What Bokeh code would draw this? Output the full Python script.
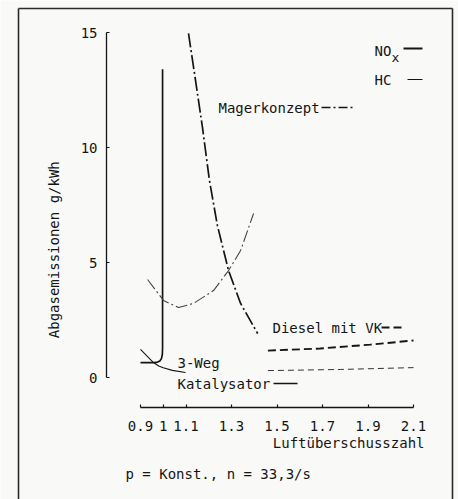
import numpy as np
from bokeh.plotting import figure
from bokeh.models import ColumnDataSource, FixedTicker, LinearAxis, Range1d
from bokeh.core.properties import value
from bokeh.embed import file_html
from bokeh.resources import INLINE

# ---------------- data ----------------
kat_nox_lambda = [0.90, 0.96, 0.975, 0.985, 0.992, 0.996, 0.997, 0.997]
kat_nox_val = [0.65, 0.65, 0.67, 0.72, 0.82, 1.0, 1.3, 13.4]
kat_hc_lambda = [0.90, 0.93, 0.957, 0.98, 1.0, 1.04, 1.098]
kat_hc_val = [1.22, 0.92, 0.65, 0.50, 0.42, 0.31, 0.22]
mager_nox_lambda = [1.111, 1.142, 1.173, 1.203, 1.238, 1.287, 1.340, 1.415]
mager_nox_val = [14.96, 12.91, 10.83, 8.57, 6.61, 4.65, 3.22, 1.91]
mager_hc_lambda = [0.931, 1.001, 1.067, 1.133, 1.221, 1.287, 1.340, 1.397]
mager_hc_val = [4.26, 3.35, 3.04, 3.22, 3.78, 4.65, 5.52, 7.13]
diesel_nox_lambda = [1.46, 1.69, 1.91, 2.10]
diesel_nox_val = [1.17, 1.26, 1.43, 1.61]
diesel_hc_lambda = [1.46, 1.78, 2.10]
diesel_hc_val = [0.30, 0.35, 0.43]

x_ticks = [0.9, 1.0, 1.1, 1.3, 1.5, 1.7, 1.9, 2.1]
x_tick_labels = ["0.9", "1", "1.1", "1.3", "1.5", "1.7", "1.9", "2.1"]
y_ticks = [0, 5, 10, 15]
y_tick_labels = ["0", "5", "10", "15"]

x_title = "Luftüberschusszahl"
y_title = "Abgasemissionen  g/kWh"
note = "p = Konst., n = 33,3/s"

# ---------------- layout helpers ----------------
W, H = 458, 499
PX_PER_X = 227.5      # pixels per lambda unit
PX_PER_Y = 23.0       # pixels per g/kWh
X0_PAGE, Y0_PAGE = 140, 377   # picture pixel of lambda=0.9 and value=0
XMIN = 0.9 - X0_PAGE / PX_PER_X
XMAX = XMIN + W / PX_PER_X
YMAX = Y0_PAGE / PX_PER_Y
YMIN = YMAX - H / PX_PER_Y

def lx(px):
    return 0.9 + (px - X0_PAGE) / PX_PER_X

def vy(py):
    return (Y0_PAGE - py) / PX_PER_Y

INK = "#151515"
FONT = value("DejaVu Sans Mono")
BG = "#f9f9f8"

p = figure(width=W, height=H, x_range=Range1d(XMIN, XMAX), y_range=Range1d(YMIN, YMAX),
           output_backend="svg", toolbar_location=None, title=None, min_border=0,
           x_axis_type=None, y_axis_type=None)
p.background_fill_color = BG
p.border_fill_color = BG
p.outline_line_color = None

# ---------------- axes ----------------
xaxis = LinearAxis(ticker=FixedTicker(ticks=x_ticks),
                   major_label_overrides=dict(zip(x_ticks, x_tick_labels)),
                   bounds=(x_ticks[0], x_ticks[-1]), fixed_location=vy(407))
yaxis = LinearAxis(ticker=FixedTicker(ticks=y_ticks),
                   major_label_overrides=dict(zip(y_ticks, y_tick_labels)),
                   bounds=(y_ticks[0], y_ticks[-1]), fixed_location=lx(106))
for ax in (xaxis, yaxis):
    ax.axis_line_color = INK
    ax.axis_line_width = 1.3
    ax.major_tick_line_color = INK
    ax.major_tick_line_width = 1.2
    ax.major_tick_in = 3
    ax.major_tick_out = 0
    ax.minor_tick_line_color = None
    ax.major_label_text_font = "DejaVu Sans Mono"
    ax.major_label_text_font_size = "14px"
    ax.major_label_text_color = INK
xaxis.major_label_standoff = 13
yaxis.major_label_standoff = 9
p.add_layout(xaxis, "below")
p.add_layout(yaxis, "left")

# ---------------- curves ----------------
p.line(kat_nox_lambda, kat_nox_val, line_color=INK, line_width=1.7)
p.line(kat_hc_lambda, kat_hc_val, line_color=INK, line_width=1.1)
p.line(mager_nox_lambda, mager_nox_val, line_color=INK, line_width=1.7, line_dash="14 3 2 3")
p.line(mager_hc_lambda, mager_hc_val, line_color="#444444", line_width=1.1, line_dash="12 3 2 3")
p.line(diesel_nox_lambda, diesel_nox_val, line_color=INK, line_width=1.9, line_dash="8 4")
p.line(diesel_hc_lambda, diesel_hc_val, line_color="#333333", line_width=1.0, line_dash="6 4")

# ---------------- frame border ----------------
p.line([lx(18), lx(18)], [YMIN, vy(8)], line_color="#2a2a2a", line_width=1.6)
p.line([lx(18), lx(452)], [vy(8), vy(8)], line_color="#2a2a2a", line_width=1.6)
p.line([lx(452), lx(452)], [vy(8), YMIN], line_color="#2a2a2a", line_width=1.6)

# ---------------- labels ----------------
left_src = ColumnDataSource(dict(
    x=[lx(374), lx(374), lx(218), lx(272), lx(177), lx(177), lx(125)],
    y=[vy(50), vy(79), vy(107), vy(327), vy(362), vy(383), vy(473)],
    t=["NO", "HC", "Magerkonzept", "Diesel mit VK", "3-Weg", "Katalysator", note],
))
p.text(x="x", y="y", text="t", source=left_src, text_font=FONT, text_font_size="14px",
       text_color=INK, text_align="left", text_baseline="middle")
p.text(x=[lx(391)], y=[vy(57)], text=["x"], text_font=FONT, text_font_size="13px",
       text_color=INK, text_align="left", text_baseline="middle")
p.text(x=[lx(424)], y=[vy(442)], text=[x_title], text_font=FONT, text_font_size="14px",
       text_color=INK, text_align="right", text_baseline="middle")
p.text(x=[lx(53)], y=[vy(245)], text=[y_title], angle=np.pi / 2, text_font=FONT,
       text_font_size="14px", text_color=INK, text_align="center", text_baseline="middle")

# legend samples next to the labels
p.line([lx(403), lx(422)], [vy(48), vy(48)], line_color=INK, line_width=2.0)
p.line([lx(407), lx(422)], [vy(79), vy(79)], line_color=INK, line_width=1.2)
p.line([lx(321), lx(352)], [vy(107), vy(107)], line_color=INK, line_width=1.6, line_dash="9 3 2 3")
p.line([lx(381), lx(405)], [vy(327), vy(327)], line_color=INK, line_width=1.8, line_dash="8 4")
p.line([lx(273), lx(297)], [vy(383), vy(383)], line_color=INK, line_width=1.6)

open("out.html", "w").write(file_html(p, INLINE))
